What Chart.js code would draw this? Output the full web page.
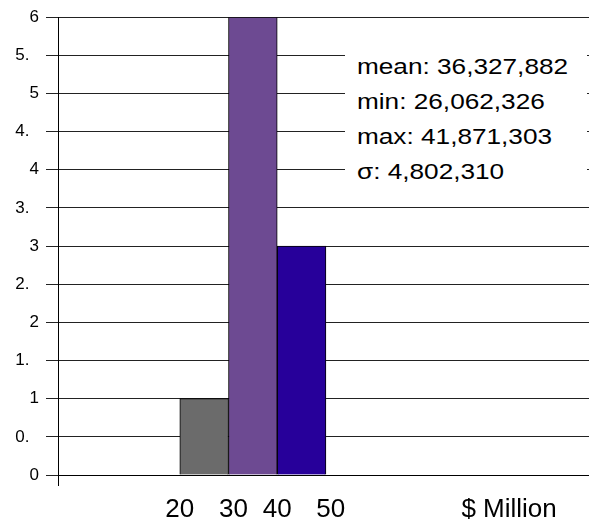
<!DOCTYPE html>
<html>
<head>
<meta charset="utf-8">
<script src="https://cdn.jsdelivr.net/npm/chart.js@4/dist/chart.umd.min.js"></script>
<style>
  html, body { margin: 0; padding: 0; background: #fff; }
  #wrap { position: relative; width: 589px; height: 523px; }
  #stats {
    position: absolute; left: 345px; top: 30px; width: 242px; height: 160px;
    background: #fff;
  }
  #stats .inner {
    position: absolute; left: 12px; top: 19px;
    font-family: "Liberation Sans", Arial, sans-serif; font-size: 22px; line-height: 35px;
    color: #000; white-space: nowrap;
    transform: scaleX(1.19); transform-origin: 0 0;
  }
</style>
</head>
<body>
<div id="wrap">
  <canvas id="c" width="589" height="523"></canvas>
  <div id="stats"><div class="inner" id="statsInner"></div></div>
</div>
<script>
// ---- data ----
const binCenters = [25, 35, 45];          // $ Million bins 20-30, 30-40, 40-50
const counts = [1, 6, 3];
const barColors = ['#6b6b6b', '#6d4a92', '#27009a'];
const xTickValues = [20, 31, 40, 51, 87.6];
const xTickLabels = ['20', '30', '40', '50', '$ Million'];
const yTickStep = 0.5;
const yMax = 6;
const statLines = ['mean: 36,327,882', 'min: 26,062,326', 'max: 41,871,303', 'σ: 4,802,310'];

document.getElementById('statsInner').innerHTML = statLines.map(s => '<div>' + s + '</div>').join('');

const X_MIN = -5, X_MAX = 104;

new Chart(document.getElementById('c'), {
  type: 'bar',
  data: {
    datasets: [{
      data: binCenters.map((x, i) => ({ x: x, y: counts[i] })),
      backgroundColor: barColors,
      borderColor: '#000',
      borderWidth: 1,
      barThickness: 'flex',
      barPercentage: 1,
      categoryPercentage: 1
    }]
  },
  options: {
    responsive: false,
    devicePixelRatio: 1,
    animation: false,
    layout: { padding: { top: 17, right: 0, left: 0, bottom: 0 } },
    plugins: { legend: { display: false }, tooltip: { enabled: false } },
    scales: {
      x: {
        type: 'linear',
        offset: false,
        min: X_MIN, max: X_MAX,
        afterFit: s => { s.height = 48; },
        afterBuildTicks: s => {
          s.ticks = [{ value: X_MIN }].concat(xTickValues.map(v => ({ value: v })));
        },
        ticks: {
          autoSkip: false, maxRotation: 0, padding: 8,
          color: '#000',
          font: { family: '"Liberation Sans", Arial, sans-serif', size: 26 },
          callback: (v) => {
            const i = xTickValues.indexOf(v);
            return i >= 0 ? xTickLabels[i] : '';
          }
        },
        grid: {
          offset: false,
          drawOnChartArea: false,
          tickLength: 11,
          color: ctx => (ctx.tick && ctx.tick.value === X_MIN) ? '#000' : 'rgba(0,0,0,0)'
        },
        border: { display: true, color: '#000', width: 1 }
      },
      y: {
        min: 0, max: yMax,
        afterFit: s => { s.width = 58; },
        ticks: {
          stepSize: yTickStep, padding: 7, color: '#000',
          font: { family: '"Liberation Sans", Arial, sans-serif', size: 17 },
          callback: v => Number.isInteger(v) ? String(v) : Math.floor(v) + '.\u2007'
        },
        grid: { color: '#222', lineWidth: 1, tickLength: 12, tickColor: '#222' },
        border: { display: true, color: '#000', width: 1 }
      }
    }
  }
});
</script>
</body>
</html>
